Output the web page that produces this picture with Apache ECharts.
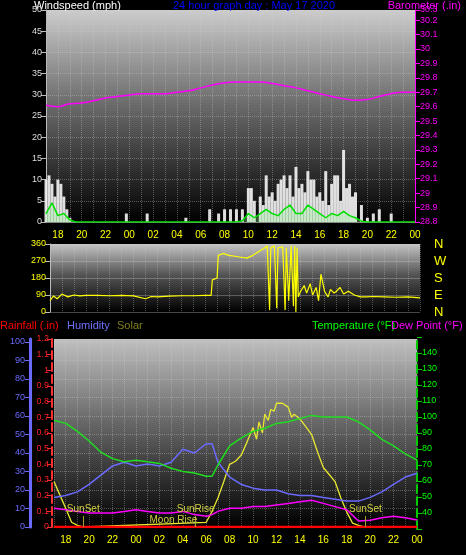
<!DOCTYPE html>
<html>
<head>
<meta charset="utf-8">
<script src="https://cdn.jsdelivr.net/npm/echarts@6/dist/echarts.min.js"></script>
<style>html,body{margin:0;background:#000}#chart{width:466px;height:555px}</style>
</head>
<body>
<div id="chart"></div>
<script>
// hours counted from 00:00 of the first day (17 = 17:00, 48 = 24:00 next day)
var gustTimes = [17,17.25,17.5,17.75,18,18.25,18.5,18.75,19,23.75,25.5,28.75,30.75,31.5,32,32.5,33,33.5,34,34.25,34.5,35,35.25,35.5,35.75,36,36.25,36.5,36.75,37,37.25,37.5,37.75,38,38.25,38.5,38.75,39,39.25,39.5,39.75,40,40.25,40.5,40.75,41,41.25,41.5,41.75,42,42.25,42.5,42.75,43,43.5,44,44.5,45,46];
var gustVals  = [10,11,9,6,10,9,6,3,1,2,2,1,3,2,3,3,3,3,8,8,5,6,4,11,6,7,5,9,10,11,8,11,6,13,8,9,7,12,10,10,6,7,5,12,4,9,11,11,5,17,8,9,6,7,4,1,2,3,2];
var avgTimes = [17,17.5,18,18.5,19,19.5,33,33.5,34,34.5,35,35.5,36,36.5,37,37.5,38,38.5,39,39.5,40,40.5,41,41.5,42,42.5,43,43.5,44,48];
var avgVals  = [2,4.5,1.5,2,0.5,0,0,0.3,2,1,2,3,2,1.5,3,4,2,2,4,3,2,1,2,1.5,2.5,1.5,1,0.2,0,0];
var baroTimes = [17,18,19,20,21,22,23,24,25,26,27,28,29,30,31,32,33,34,35,36,37,38,39,40,41,42,43,44,45,46,47,48];
var baroVals  = [29.61,29.60,29.62,29.625,29.64,29.66,29.67,29.68,29.69,29.69,29.69,29.70,29.71,29.73,29.75,29.765,29.77,29.77,29.77,29.76,29.745,29.73,29.71,29.69,29.67,29.655,29.645,29.65,29.67,29.69,29.70,29.70];
var dirTimes = [17,17.3,17.6,18,18.5,19,19.5,20,21,22,23,24,25,25.5,26,27,28,29,30,30.5,30.6,31,31.1,31.5,32,32.5,33,33.5,34,34.5,35,35.2,35.4,35.5,35.8,36,36.1,36.5,36.7,36.8,37,37.2,37.4,37.5,37.6,37.7,37.8,38,38.3,38.5,38.8,39,39.3,39.5,39.7,40,40.3,40.5,40.8,41,41.3,41.6,42,42.5,43,43.5,44,45,46,47,48];
var dirVals  = [60,85,70,95,80,90,85,88,88,86,88,85,70,82,80,84,86,86,88,88,170,180,300,310,300,295,290,285,300,320,340,350,10,340,350,20,340,345,10,340,60,350,30,350,0,340,80,110,140,100,150,90,130,60,200,110,80,120,100,110,130,95,110,90,80,80,82,80,78,80,75];
var dirLabels = {0:'N',90:'E',180:'S',270:'W',360:'N'};
var thTimes = [17,18,19,20,21,22,23,24,25,26,27,28,29,30,30.5,31,32,33,34,35,36,37,38,39,40,41,42,43,44,45,46,47,48];
var tempVals = [98,96,91,85,78,74,72,73,72,71,68,66,65,63,63,70,82,87,91,93,96,97,99,101,100,100,100,97,92,86,82,77,73];
var humVals  = [16,17,19,23,28,33,35,33,34,33,35,42,40,45,45,35,27,23,21,20,20,18,17,17,16,15,14,14,16,19,23,27,29];
var dewVals  = [43,42,41,40,40,40,41,42,41,40,40,41,39,38,39,41,43,43,44,44,45,46,47,48,46,44,42,35,35.5,37,38,37,35.6];
var solarTimes = [17,17.5,18,18.5,19,19.5,30,30.5,31,31.5,32,32.5,33,33.5,34,34.3,34.5,34.8,35,35.3,35.5,35.8,36,36.5,37,37.3,37.5,38,38.5,39,39.5,40,40.5,41,41.5,42,42.5,43,43.5,48];
var solarVals  = [290,205,120,30,10,0,30,100,185,290,400,420,460,545,635,560,670,600,720,680,750,740,790,790,765,700,720,690,640,590,480,380,335,290,185,95,25,10,0,0];
var rainTimes = [17,48];
var rainVals = [0,0];
var hourLabels = ['18','20','22','00','02','04','06','08','10','12','14','16','18','20','22','00'];

function pairs(t, v) { return t.map(function (x, i) { return [x, v[i]]; }); }
function bg(top, mid) {
  return {type: 'linear', x: 0, y: 0, x2: 0, y2: 1,
    colorStops: [{offset: 0, color: top}, {offset: 0.45, color: mid}, {offset: 1, color: '#000'}]};
}
var font = 'Liberation Sans';
var dotted = {show: true, lineStyle: {color: 'rgba(210,210,210,0.35)', type: 'dotted'}};
function xAx(gi, show) {
  return {type: 'value', gridIndex: gi, min: 17, max: 48, interval: 1,
    axisLine: {show: show, lineStyle: {color: '#888'}}, axisTick: {show: false},
    splitLine: dotted,
    axisLabel: {show: show, color: '#ffff00', fontFamily: font, fontSize: 10,
      formatter: function (v) { return v % 2 === 0 ? hourLabels[(v - 18) / 2] : ''; }}};
}

var chart = echarts.init(document.getElementById('chart'));
chart.setOption({
  backgroundColor: '#000',
  animation: false,
  textStyle: {fontFamily: font},
  grid: [
    {left: 46, right: 51, top: 10, bottom: 333, show: true, borderWidth: 0, backgroundColor: bg('#cccccc', '#6a6a6a')},
    {left: 50, right: 46, top: 244, bottom: 243, show: true, borderWidth: 0, backgroundColor: bg('#c4c4c4', '#555')},
    {left: 54, right: 49, top: 339, bottom: 28, show: true, borderWidth: 0, backgroundColor: bg('#c0c0c0', '#666')},
    {left: 54, right: 49, top: 337, bottom: 26, show: false}
  ],
  xAxis: [xAx(0, true), xAx(1, false), xAx(2, true),
    {type: 'value', gridIndex: 3, min: 17, max: 48, show: false}],
  yAxis: [
    {gridIndex: 0, position: 'left', min: 0, max: 50, interval: 5, axisLine: {show: true, lineStyle: {color: '#bbb'}},
      axisTick: {show: true, lineStyle: {color: '#bbb'}},
      axisLabel: {color: '#ddd', fontSize: 9, margin: 4}, splitLine: dotted},
    {gridIndex: 0, position: 'right', min: 28.8, max: 30.27, interval: 0.1,
      axisLine: {show: true, lineStyle: {color: '#ff00ff'}}, axisTick: {show: true},
      axisLabel: {color: '#ff00ff', fontSize: 9, margin: 5, formatter: function (v) { return +v.toFixed(1); }},
      splitLine: {show: false}},
    {gridIndex: 1, position: 'left', min: 0, max: 360, interval: 90, axisLine: {show: true, lineStyle: {color: '#bbb'}},
      axisLabel: {color: '#ffff00', fontSize: 9, margin: 4}, splitLine: {show: true, lineStyle: {color: 'rgba(200,200,200,0.35)'}}},
    {gridIndex: 1, position: 'right', min: 0, max: 360, interval: 90, axisLine: {show: false}, axisTick: {show: false},
      axisLabel: {color: '#ffff00', fontSize: 13, margin: 14, formatter: function (v) { return dirLabels[v]; }},
      splitLine: {show: false}},
    {gridIndex: 2, position: 'left', min: 0, max: 101.6, interval: 10, offset: 24,
      axisLine: {show: true, lineStyle: {color: '#6a6aff', width: 3}}, axisTick: {show: true, lineStyle: {color: '#6a6aff'}},
      axisLabel: {color: '#6a6aff', fontSize: 9, margin: 5}, splitLine: dotted},
    {gridIndex: 2, position: 'left', min: 0, max: 1.2, interval: 0.1, offset: 2,
      axisLine: {show: true, lineStyle: {color: '#ff3030', type: 'dashed', width: 2}}, axisTick: {show: true, lineStyle: {color: '#ff3030'}},
      axisLabel: {color: '#ff2020', fontSize: 9, margin: 3, formatter: function (v) { return +v.toFixed(1); }},
      splitLine: {show: false}},
    {gridIndex: 2, min: 0, max: 1200, show: false},
    {gridIndex: 3, position: 'right', min: 30, max: 150, interval: 10,
      axisLine: {show: true, lineStyle: {color: '#00cc00', type: 'dashed', width: 2}}, axisTick: {show: true},
      axisLabel: {color: '#00ff00', fontSize: 9, margin: 5, formatter: function (v) { return v >= 40 && v <= 140 ? v : ''; }},
      splitLine: {show: false}}
  ],
  series: [
    {type: 'bar', xAxisIndex: 0, yAxisIndex: 0, data: pairs(gustTimes, gustVals), barWidth: 3,
      itemStyle: {color: 'rgba(245,245,245,0.9)'}},
    {type: 'line', xAxisIndex: 0, yAxisIndex: 0, data: pairs(avgTimes, avgVals), showSymbol: false,
      lineStyle: {color: '#00e000', width: 1.5}, areaStyle: {color: 'rgba(150,255,150,0.45)'}},
    {type: 'line', xAxisIndex: 0, yAxisIndex: 1, data: pairs(baroTimes, baroVals), showSymbol: false, smooth: true,
      lineStyle: {color: '#ff00ff', width: 1.5}},
    {type: 'line', xAxisIndex: 1, yAxisIndex: 2, data: pairs(dirTimes, dirVals), showSymbol: false,
      lineStyle: {color: '#ffff00', width: 1.2}},
    {type: 'line', xAxisIndex: 2, yAxisIndex: 6, data: pairs(solarTimes, solarVals), showSymbol: false,
      lineStyle: {color: '#e8e830', width: 1.3},
      markLine: {symbol: 'none', silent: true, lineStyle: {color: '#a0a030', type: 'solid', width: 1},
        label: {color: '#d0d040', fontSize: 10, position: 'end', distance: 2},
        data: [
          [{coord: [19.5, 0], name: 'SunSet'}, {coord: [19.5, 70]}],
          [{coord: [29.1, 0], name: 'SunRise'}, {coord: [29.1, 70]}],
          [{coord: [43.6, 0], name: 'SunSet'}, {coord: [43.6, 70]}],
          [{coord: [27.2, 0], name: 'Moon Rise'}, {coord: [27.2, 1]}]
        ]}},
    {type: 'line', xAxisIndex: 2, yAxisIndex: 4, data: pairs(thTimes, humVals), showSymbol: false,
      lineStyle: {color: '#6a6aff', width: 1.5}},
    {type: 'line', xAxisIndex: 3, yAxisIndex: 7, data: pairs(thTimes, tempVals), showSymbol: false,
      lineStyle: {color: '#20dd20', width: 1.5}},
    {type: 'line', xAxisIndex: 3, yAxisIndex: 7, data: pairs(thTimes, dewVals), showSymbol: false,
      lineStyle: {color: '#ff00ff', width: 1.5}},
    {type: 'line', xAxisIndex: 2, yAxisIndex: 5, data: pairs(rainTimes, rainVals), showSymbol: false,
      lineStyle: {color: '#ff0000', width: 2.5}}
  ],
  graphic: [
    {type: 'text', left: 34, top: 0, style: {text: 'Windspeed (mph)', fill: '#fff', font: '11px Liberation Sans'}},
    {type: 'text', left: 173, top: 0, style: {text: '24 hour graph day : May 17 2020', fill: '#0000ff', font: '11px Liberation Sans'}},
    {type: 'text', right: 5, top: 0, style: {text: 'Barometer (.in)', fill: '#ff00ff', font: '11px Liberation Sans'}},
    {type: 'text', left: 0, top: 320, style: {text: 'Rainfall (.in)', fill: '#ff0000', font: '11px Liberation Sans'}},
    {type: 'text', left: 67, top: 320, style: {text: 'Humidity', fill: '#7070ff', font: '11px Liberation Sans'}},
    {type: 'text', left: 117, top: 320, style: {text: 'Solar', fill: '#808020', font: '11px Liberation Sans'}},
    {type: 'text', left: 312, top: 320, style: {text: 'Temperature (\u00b0F)', fill: '#00ff00', font: '11px Liberation Sans'}},
    {type: 'text', left: 391, top: 320, style: {text: 'Dew Point (\u00b0F)', fill: '#ff00ff', font: '11px Liberation Sans'}}
  ]
});
</script>
</body>
</html>
